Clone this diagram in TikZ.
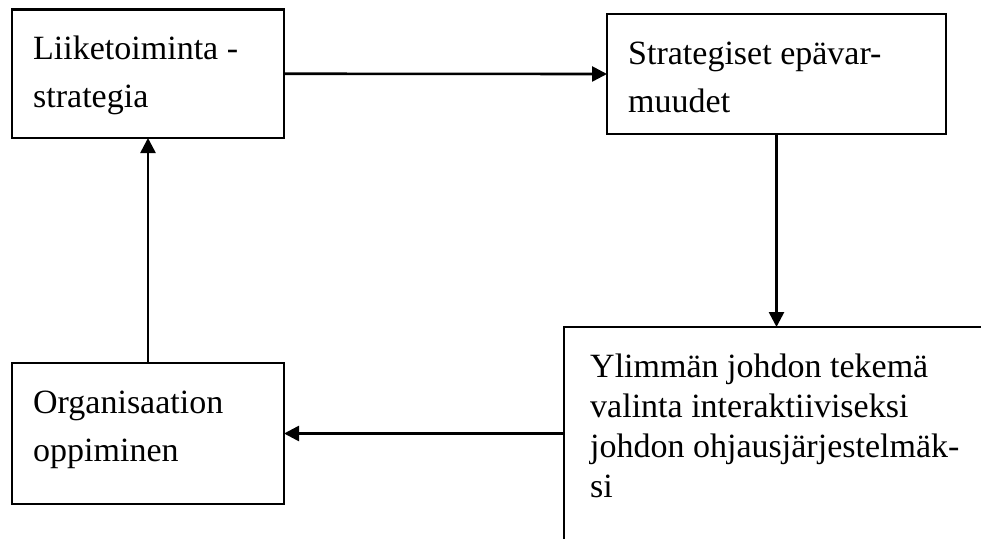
\documentclass[tikz,border=0pt]{standalone}
\usepackage{fontspec}
\setmainfont{Liberation Serif}
\usetikzlibrary{arrows.meta}
\begin{document}
\begin{tikzpicture}[x=1pt,y=-1pt,
  box/.style={draw=black, line width=2.2pt, rectangle, inner sep=0pt, outer sep=0pt, anchor=north west},
  txt/.style={anchor=base west, inner sep=0pt, align=left, font=\fontsize{34}{48}\selectfont},
  txttight/.style={txt, font=\fontsize{34}{40}\selectfont},
  flow/.style={line width=2.6pt, -{Triangle[length=15pt,width=15pt]}}]
\useasboundingbox (0,0) rectangle (981,538);
\clip (0,0) rectangle (981,538);
\fill[white] (0,0) rectangle (981,538);

% boxes
\node[box, minimum width=272pt, minimum height=128.5pt] (b1) at (12,9.5) {};
\node[box, minimum width=339pt, minimum height=120pt] (b2) at (607,14) {};
\node[box, minimum width=436pt, minimum height=233pt] (b3) at (564,327) {};
\node[box, minimum width=272pt, minimum height=141pt] (b4) at (12,363) {};

% labels, placed by the baseline of their last line
\node[txt] (t1) at (33,107) {Liiketoiminta -\\strategia};
\node[txt] (t2) at (628,112) {Strategiset epävar-\\muudet};
\node[txttight] (t3) at (590,497) {Ylimmän johdon tekemä\\valinta interaktiiviseksi\\johdon ohjausjärjestelmäk-\\si};
\node[txt] (t4) at (33,461) {Organisaation\\oppiminen};

% connectors
\draw[flow] (b1.east) -- (b2.west);
\draw[flow] (b2.south) -- (b2.south |- b3.north);
\draw[flow] (b4.east -| b3.west) -- (b4.east);
\draw[flow] (b4.north) -- (b1.south);
\end{tikzpicture}
\end{document}
